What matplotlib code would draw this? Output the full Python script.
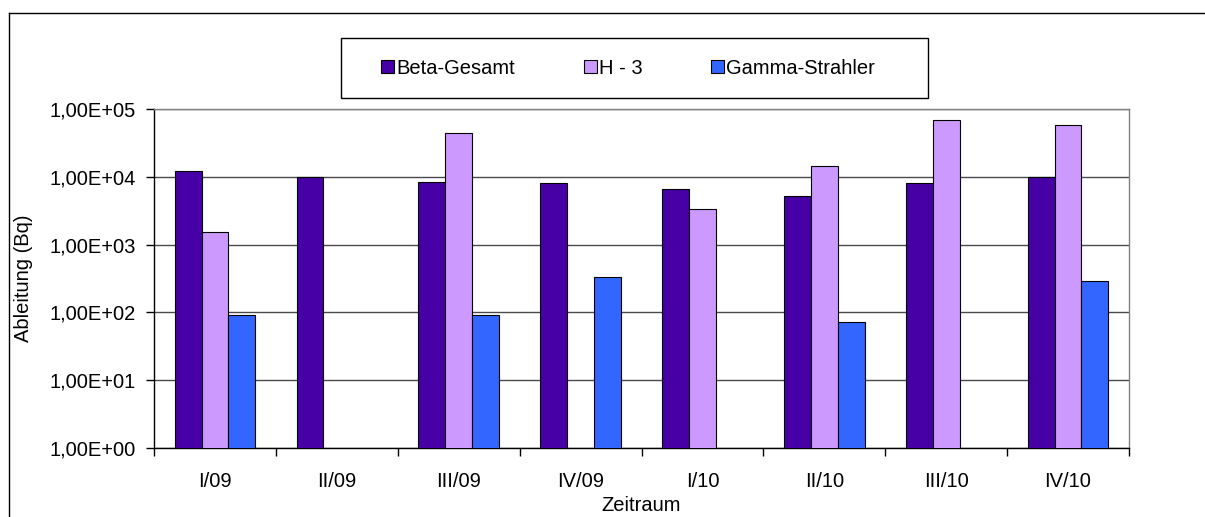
import numpy as np
import matplotlib
matplotlib.use("Agg")
import matplotlib.pyplot as plt
from matplotlib.lines import Line2D
from matplotlib.patches import Rectangle, Patch
from matplotlib.ticker import FixedLocator, FuncFormatter, NullLocator

plt.rcParams["font.family"] = ["Liberation Sans", "DejaVu Sans"]
plt.rcParams["font.size"] = 14.5

# Ableitungen je Quartal (Bq); nan = kein Messwert
quartale = ["I/09", "II/09", "III/09", "IV/09", "I/10", "II/10", "III/10", "IV/10"]
beta_gesamt = [1.23e4, 1.0e4, 8.5e3, 8.0e3, 6.6e3, 5.2e3, 8.0e3, 1.0e4]
h3 = [1.55e3, np.nan, 4.4e4, np.nan, 3.4e3, 1.45e4, 7.0e4, 5.9e4]
gamma_strahler = [93, np.nan, 93, 330, np.nan, 72, np.nan, 290]

reihen = ["Beta-Gesamt", "H - 3", "Gamma-Strahler"]
farben = ["#4700A5", "#CC99FF", "#3366FF"]

fig = plt.figure(figsize=(12.05, 5.17), dpi=100)
W, H = 1205, 517
ax = fig.add_axes([154 / W, 1 - 448 / H, 975 / W, 339 / H])

x = np.arange(len(quartale))
breite = 0.22
for i, (werte, farbe) in enumerate(zip([beta_gesamt, h3, gamma_strahler], farben)):
    werte = np.asarray(werte, dtype=float)
    ok = ~np.isnan(werte)
    ax.bar(x[ok] + (i - 1) * breite, werte[ok], width=breite, color=farbe,
           edgecolor="black", linewidth=0.8, zorder=3)

ax.set_yscale("log")
ax.set_ylim(1, 1e5)
ax.set_xlim(-0.5, len(quartale) - 0.5)
ax.yaxis.set_major_locator(FixedLocator([1, 10, 100, 1e3, 1e4, 1e5]))
ax.yaxis.set_minor_locator(NullLocator())
ax.yaxis.set_major_formatter(FuncFormatter(lambda v, p: f"{v:.2E}".replace(".", ",")))
ax.grid(axis="y", color="#4a4a4a", linewidth=1.0, zorder=0)

ax.set_xticks(x)
ax.set_xticklabels(quartale)
ax.set_xticks(np.arange(-0.5, len(quartale)), minor=True)
ax.tick_params(axis="x", which="major", length=0, pad=17)
ax.tick_params(axis="x", which="minor", length=6, width=1, color="black")
ax.tick_params(axis="y", which="major", length=6, width=1, pad=7)

for s in ["top", "right"]:
    ax.spines[s].set_color("#808080")
for s in ["left", "bottom"]:
    ax.spines[s].set_color("black")
for s in ax.spines.values():
    s.set_linewidth(1)

ax.set_xlabel("Zeitraum", labelpad=4)
ax.set_ylabel("Ableitung (Bq)")
ax.yaxis.set_label_coords((33 - 154) / 975, 0.5)

# Legende mit eigenem Rahmen
fig.add_artist(Rectangle((341 / W, 1 - 98 / H), 587 / W, 60 / H, transform=fig.transFigure,
                         facecolor="white", edgecolor="black", linewidth=1))
handles = [Patch(facecolor=f, edgecolor="black", linewidth=0.8) for f in farben]
fig.legend(handles, reihen, loc="center", bbox_to_anchor=(628 / W, 1 - 68 / H), ncol=3,
           frameon=False, handlelength=0.65, handleheight=0.65, handletextpad=0.1,
           columnspacing=3.4)

# Rahmen um das Diagramm
fig.add_artist(Line2D([9 / W, 9 / W], [0, 1 - 13 / H], transform=fig.transFigure,
                      color="black", linewidth=1))
fig.add_artist(Line2D([9 / W, 1], [1 - 13 / H, 1 - 13 / H], transform=fig.transFigure,
                      color="black", linewidth=1))

fig.savefig("out.png", dpi=100, facecolor="white")
